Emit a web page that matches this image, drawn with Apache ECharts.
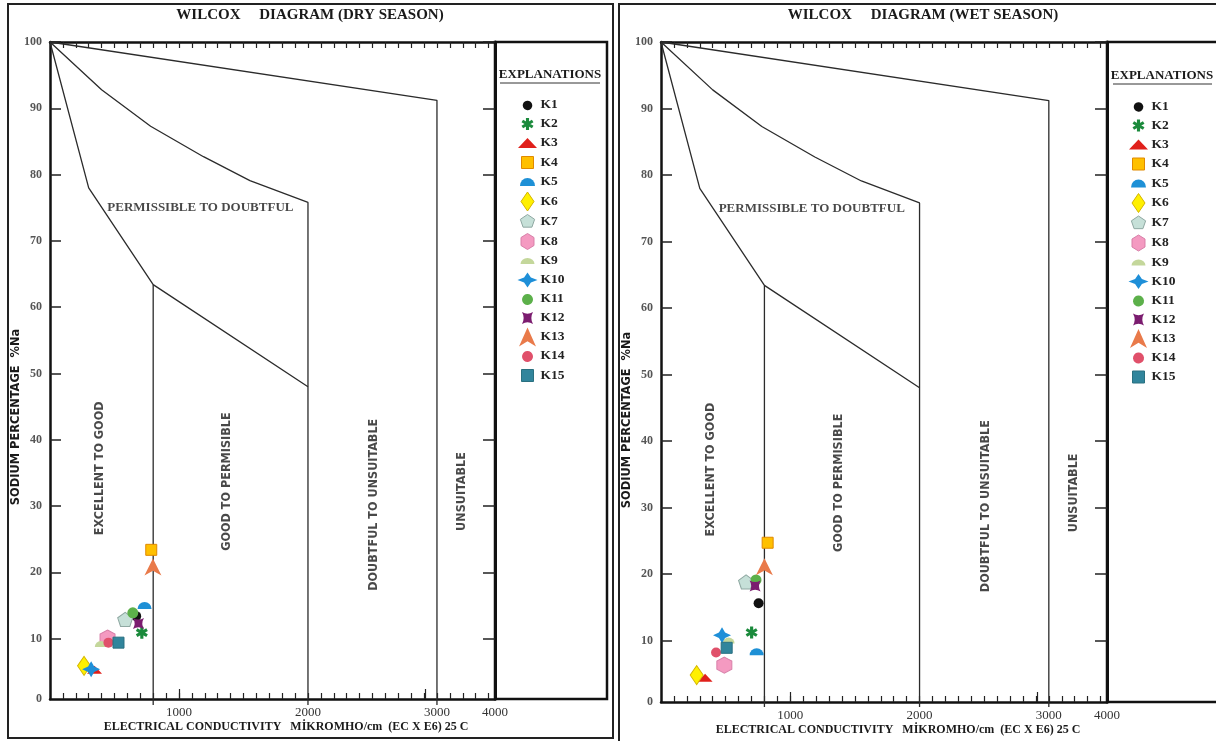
<!DOCTYPE html>
<html>
<head>
<meta charset="utf-8">
<script src="https://cdn.jsdelivr.net/npm/echarts@6/dist/echarts.min.js"></script>
<style>
html,body{margin:0;padding:0;background:#fff;}
#chart{width:1216px;height:741px;}
</style>
</head>
<body>
<div id="chart"></div>
<script>
// ---------------- DATA ----------------
const samples = ['K1','K2','K3','K4','K5','K6','K7','K8','K9','K10','K11','K12','K13','K14','K15'];
// Dry season: electrical conductivity (µmho/cm) and sodium percentage
const dryEC = [668, 712, 345, 785, 733, 264, 583, 446, 394, 319, 642, 686, 798, 453, 531];
const dryNa = [13.4, 10.9, 5.3, 23.4, 15.0, 5.9, 12.9, 10.1, 9.2, 5.4, 13.9, 12.3, 20.8, 9.4, 9.4];
// Wet season
const wetEC = [755, 701, 341, 825, 740, 276, 658, 490, 523, 472, 735, 728, 800, 426, 508];
const wetNa = [15.6, 11.2, 4.4, 24.7, 8.3, 4.8, 18.8, 6.3, 10.0, 10.8, 19.1, 18.2, 21.1, 8.2, 8.9];

// Wilcox class boundaries [EC, %Na]
const boundaryTop = [[0,100],[3000,91.2],[3000,0]];
const boundaryMid = [[0,100],[400,92.8],[780,87.3],[1190,82.7],[1550,79.1],[2000,75.8],[2000,0]];
const boundaryLow = [[0,100],[300,78],[800,63.4],[2000,48]];
const boundaryLowDrop = [[800,63.4],[800,0]];

// Region labels
const regionNames = ['PERMISSIBLE TO DOUBTFUL','EXCELLENT TO GOOD','GOOD TO PERMISIBLE','DOUBTFUL TO UNSUITABLE','UNSUITABLE'];
const regionAnchors = [[1166,75],[383,35.7],[1373,33.7],[2510,30.2],[3193,32.2]];
const regionRotate = [0,90,90,90,90];

// Axis ticks (x axis of the original is compressed after 3000: its right end is labelled 4000)
const xMax = 3450;
const xTickValues = [1000,2000,3000,3450];
const xTickLabels = ['1000','2000','3000','4000'];
const xMajorTicks = [1000,2910];
const xMinorTicks = [];
for (let v = 100; v < xMax; v += 100) xMinorTicks.push(v);
// y axis: the drawn frame starts slightly above 0; its bottom edge carries the "0" label
const yMinDry = 0.9, yMinWet = 0.75;
const yTickValues = [10,20,30,40,50,60,70,80,90,100];
const yTickLabels = ['10','20','30','40','50','60','70','80','90','100'];

// ---------------- STYLES ----------------
const SERIF = "'Liberation Serif','DejaVu Serif',serif";
const NARROW = "'Liberation Sans Narrow','DejaVu Sans Condensed','Liberation Sans',sans-serif";

// shapes in a 0..100 box
const S = {
  asterisk: 'M63,0 L37,0 L37,100 L63,100 Z M13.2,13.74 L0.2,36.26 L86.8,86.26 L99.8,63.74 Z M99.8,36.26 L86.8,13.74 L0.2,63.74 L13.2,86.26 Z',
  triangle: 'M0,100 L50,0 L100,100 Z',
  pentagon: 'M50,0 L97.6,34.5 L79.4,90.5 L20.6,90.5 L2.4,34.5 Z',
  hexagon: 'M50,0 L93.3,25 L93.3,75 L50,100 L6.7,75 L6.7,25 Z',
  star4: 'M50,0 L67,33 L100,50 L67,67 L50,100 L33,67 L0,50 L33,33 Z',
  concave: 'M0,0 Q50,30 100,0 Q70,50 100,100 Q50,70 0,100 Q30,50 0,0 Z',
  arrow: 'M50,0 L100,100 L50,72 L0,100 Z',
  square: 'M0,0 L100,0 L100,100 L0,100 Z',
  diamond: 'M50,0 L100,50 L50,100 L0,50 Z'
};
const DOME = 'path://M0,10 A10,10 0 0 1 20,10 Z';
const symbols = ['circle', 'path://'+S.asterisk, 'path://'+S.triangle, 'rect', DOME, 'diamond', 'path://'+S.pentagon, 'path://'+S.hexagon, DOME, 'path://'+S.star4, 'circle', 'path://'+S.concave, 'path://'+S.arrow, 'circle', 'rect'];
const sizes = [10, 12, [15,8], 11, [14,7], [13,19], [15,14], [15,16], [12,6], [18,16], 11, 11, [17,17], 10, 11];
const fills = ['#111111','#1b8a3c','#e0201b','#ffc000','#1e90d6','#fff000','#c6e0d8','#f49ac1','#c4d79b','#1e8fd8','#5cb04a','#7b1c6f','#e97a4a','#e0506a','#31859c'];
const borders = [null,null,null,'#e08a00',null,'#d4b400','#8fa8a2','#d87fa8',null,null,null,null,null,null,'#2a7080'];

// legend icons: drawn inside a fixed 20x19 box (corner moveTo points fix the box)
const LW = 20, LH = 19;
function boxed(d) { return 'path://M0,0 M' + LW + ',' + LH + ' ' + d; }
function scaled(d, w, h) {
  let i = 0;
  return boxed(d.replace(/-?\d+(\.\d+)?/g, (m) => {
    const v = parseFloat(m);
    const r = (i++ % 2 === 0) ? (LW/2 - w/2 + v*w/100) : (LH/2 - h/2 + v*h/100);
    return r.toFixed(2);
  }));
}
function circ(r) { const cx = LW/2, cy = LH/2; return boxed('M' + (cx+r) + ',' + cy + ' A' + r + ',' + r + ' 0 1 1 ' + (cx+r-0.01) + ',' + (cy-0.1) + ' Z'); }
function dome(w, h) { const x0 = LW/2 - w/2, x1 = LW/2 + w/2, yb = LH/2 + h/2; return boxed('M' + x0 + ',' + yb + ' A' + (w/2) + ',' + h + ' 0 0 1 ' + x1 + ',' + yb + ' Z'); }
const legendIcons = [
  circ(4.8), scaled(S.asterisk, 12, 12), scaled(S.triangle, 19, 10), scaled(S.square, 12, 12),
  dome(15, 8), scaled(S.diamond, 13, 19), scaled(S.pentagon, 15, 14), scaled(S.hexagon, 15, 16),
  dome(14, 6), scaled(S.star4, 20, 15), circ(5.5), scaled(S.concave, 11, 12),
  scaled(S.arrow, 17, 19), circ(5.5), scaled(S.square, 12, 12)
];

// ---------------- BUILD ----------------
function axesFor(g, yMin) {
  const axLine = {show:true, onZero:false, lineStyle:{color:'#111', width:2.5}};
  const xAxes = [
    {type:'value', gridIndex:g, min:0, max:xMax, position:'bottom', axisLine:axLine,
     axisTick:{show:true, inside:true, length:6, customValues:xMinorTicks, lineStyle:{color:'#222', width:1.2}},
     axisLabel:{show:true, customValues:xTickValues, formatter:(v)=>xTickLabels[xTickValues.indexOf(v)] || '', color:'#333', fontFamily:SERIF, fontSize:13, margin:7},
     splitLine:{show:false}},
    {type:'value', gridIndex:g, min:0, max:xMax, position:'top', axisLine:axLine,
     axisTick:{show:true, inside:true, length:6, customValues:xMinorTicks, lineStyle:{color:'#222', width:1.2}},
     axisLabel:{show:false}, splitLine:{show:false}},
    {type:'value', gridIndex:g, min:0, max:xMax, position:'bottom', axisLine:{show:false},
     axisTick:{show:true, inside:true, length:10, customValues:xMajorTicks, lineStyle:{color:'#222', width:1.2}},
     axisLabel:{show:false}, splitLine:{show:false}}
  ];
  const yLabVals = [yMin].concat(yTickValues);
  const yLabTxt = ['0'].concat(yTickLabels);
  const yAxes = [
    {type:'value', gridIndex:g, min:yMin, max:100, position:'left', axisLine:axLine,
     axisTick:{show:true, inside:true, length:11, customValues:yTickValues, lineStyle:{color:'#222', width:1.5}},
     axisLabel:{show:true, customValues:yLabVals, formatter:(v)=>yLabTxt[yLabVals.indexOf(v)] || '', color:'#555', fontFamily:SERIF, fontWeight:'bold', fontSize:12, margin:8},
     splitLine:{show:false}},
    {type:'value', gridIndex:g, min:yMin, max:100, position:'right', axisLine:{show:true, onZero:false, lineStyle:{color:'#111', width:3}},
     axisTick:{show:true, inside:true, length:12, customValues:yTickValues, lineStyle:{color:'#222', width:1.5}},
     axisLabel:{show:false}, splitLine:{show:false}}
  ];
  return {xAxes, yAxes};
}

function seriesFor(g, ec, na) {
  const xi = g*3, yi = g*2;
  const out = [];
  [boundaryTop, boundaryMid, boundaryLow, boundaryLowDrop].forEach((b, k) => {
    out.push({type:'line', name:'boundary'+g+'_'+k, xAxisIndex:xi, yAxisIndex:yi, data:b,
      showSymbol:false, symbol:'none', silent:true, z:1, clip:false,
      lineStyle:{color:'#2b2b2b', width:1.3}});
  });
  out.push({type:'scatter', name:'regions'+g, xAxisIndex:xi, yAxisIndex:yi, silent:true, z:2,
    symbol:'circle', symbolSize:1, itemStyle:{color:'transparent'},
    data: regionNames.map((n,i)=>({name:n, value:regionAnchors[i],
      label:{show:true, position:'inside', formatter:'{b}', rotate:regionRotate[i],
        fontFamily: i===0 ? SERIF : NARROW, fontWeight:'bold', fontSize: i===0 ? 13 : 12.5, color:'#1a1a1a'}}))
  });
  samples.forEach((s,i) => {
    out.push({type:'scatter', name:s, xAxisIndex:xi, yAxisIndex:yi, z:10+i,
      data:[[ec[i], na[i]]], symbol:symbols[i], symbolSize:sizes[i],
      itemStyle:{color:fills[i], borderColor:borders[i] || fills[i], borderWidth: borders[i] ? 1 : 0, opacity:1}});
  });
  return out;
}

const a0 = axesFor(0, yMinDry), a1 = axesFor(1, yMinWet);

function legendFor(left, top) {
  return {show:true, left:left, top:top, orient:'vertical', itemWidth:LW, itemHeight:LH, itemGap:0,
    selectedMode:false, padding:0,
    textStyle:{fontFamily:SERIF, fontWeight:'bold', fontSize:13.5, color:'#222', padding:[0,0,0,-2]},
    data: samples.map((s,i)=>({name:s, icon:legendIcons[i],
      itemStyle:{color:fills[i], borderColor:borders[i] || fills[i], borderWidth: borders[i] ? 1 : 0}}))};
}

function txt(x, y, text, font, rot, color) {
  return {type:'text', x:x, y:y, rotation: rot ? rot*Math.PI/180 : 0, silent:true, z:100,
    style:{x:0, y:0, text:text, font:font, fill:color || '#1a1a1a',
      align:'center', verticalAlign:'middle', textAlign:'center', textVerticalAlign:'middle'}};
}

const titleFont = "bold 15px " + SERIF;
const xNameFont = "bold 12px " + SERIF;
const yNameFont = "bold 12.7px " + NARROW;
const explFont = "bold 13px " + SERIF;

const option = {
  animation:false,
  backgroundColor:'#ffffff',
  grid:[
    {left:50, top:42, width:445, height:657},
    {left:661, top:42, width:446, height:660}
  ],
  xAxis:[...a0.xAxes, ...a1.xAxes],
  yAxis:[...a0.yAxes, ...a1.yAxes],
  legend:[legendFor(517, 95.5), legendFor(1128, 97)],
  series:[...seriesFor(0, dryEC, dryNa), ...seriesFor(1, wetEC, wetNa)],
  graphic:[
    {type:'rect', silent:true, z:0, shape:{x:8, y:4, width:605, height:734}, style:{fill:'none', stroke:'#222', lineWidth:2}},
    {type:'rect', silent:true, z:0, shape:{x:619, y:4, width:605, height:740}, style:{fill:'none', stroke:'#222', lineWidth:2}},
    {type:'rect', silent:true, z:0, shape:{x:495, y:42, width:112, height:657}, style:{fill:'none', stroke:'#111', lineWidth:2.5}},
    {type:'rect', silent:true, z:0, shape:{x:1107, y:42, width:120, height:660}, style:{fill:'none', stroke:'#111', lineWidth:2.5}},
    txt(310, 15, 'WILCOX     DIAGRAM (DRY SEASON)', titleFont),
    txt(923, 15, 'WILCOX     DIAGRAM (WET SEASON)', titleFont),
    txt(286, 727, 'ELECTRICAL CONDUCTIVITY   MİKROMHO/cm  (EC X E6) 25 C', xNameFont),
    txt(898, 730, 'ELECTRICAL CONDUCTIVITY   MİKROMHO/cm  (EC X E6) 25 C', xNameFont),
    txt(16, 417, 'SODIUM PERCENTAGE  %Na', yNameFont, 90),
    txt(627, 420, 'SODIUM PERCENTAGE  %Na', yNameFont, 90),
    txt(550, 75, 'EXPLANATIONS', explFont),
    txt(1162, 76, 'EXPLANATIONS', explFont),
    {type:'line', silent:true, z:100, shape:{x1:500, y1:83, x2:600, y2:83}, style:{stroke:'#333', lineWidth:1}},
    {type:'line', silent:true, z:100, shape:{x1:1113, y1:84, x2:1212, y2:84}, style:{stroke:'#333', lineWidth:1}}
  ]
};

const chart = echarts.init(document.getElementById('chart'), null, {renderer:'canvas'});
chart.setOption(option);
</script>
</body>
</html>
